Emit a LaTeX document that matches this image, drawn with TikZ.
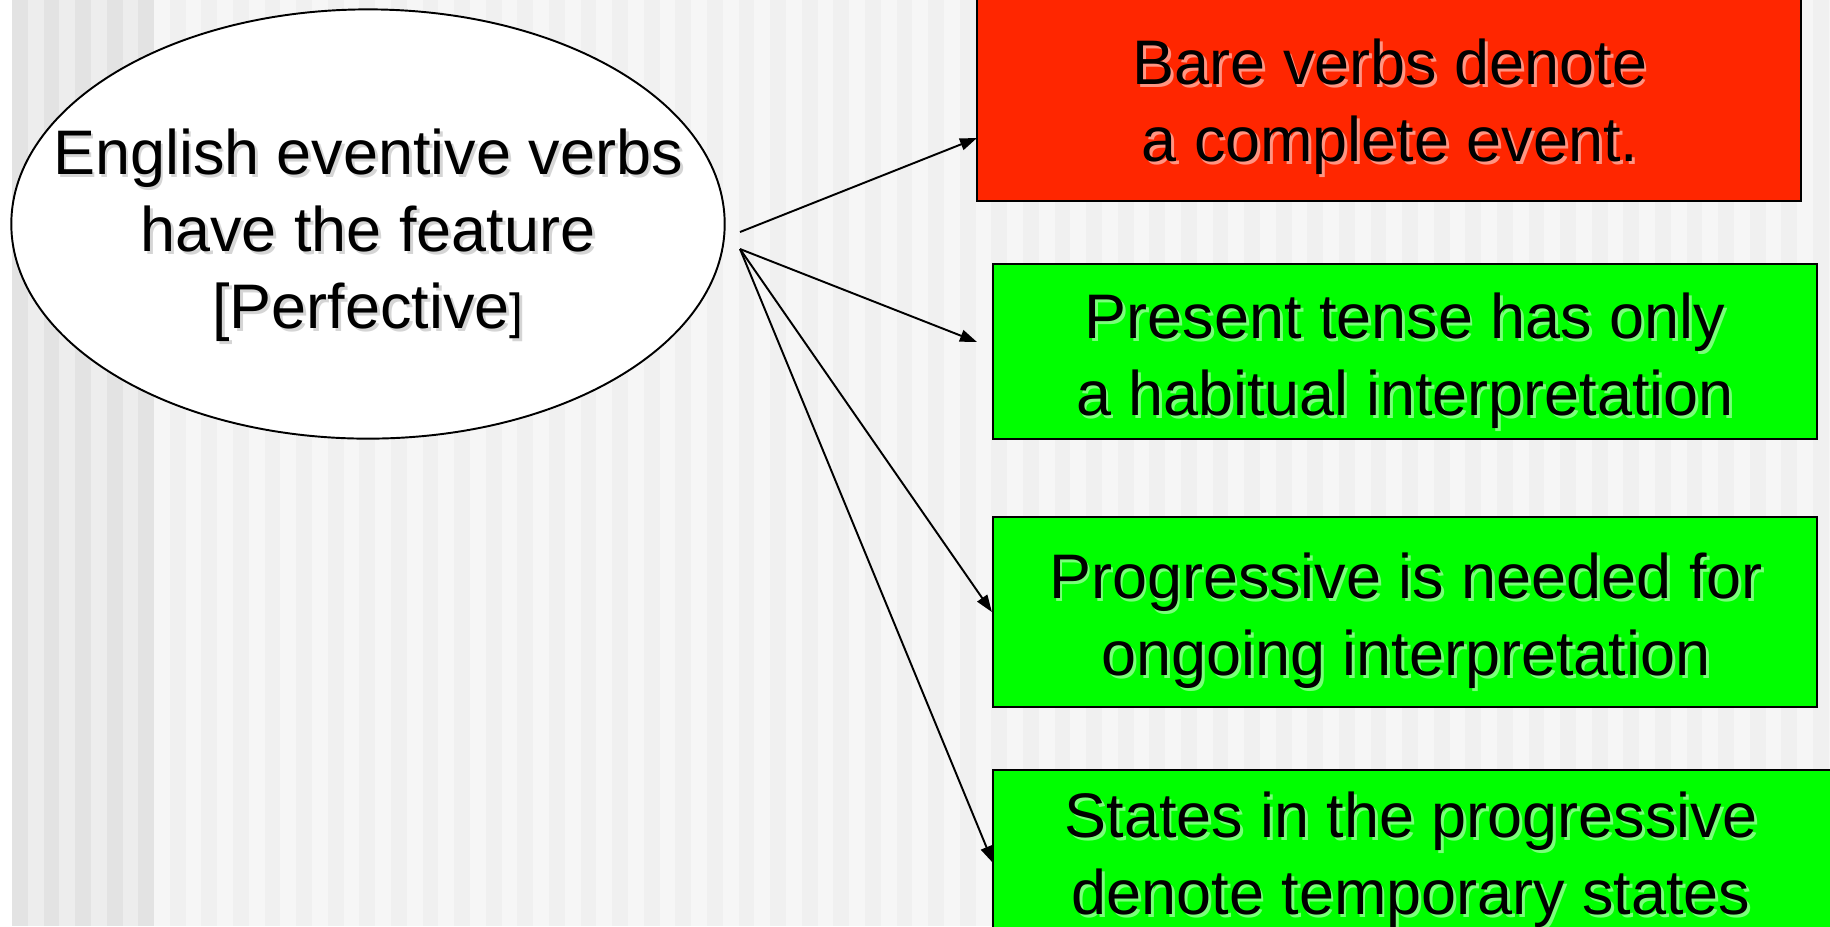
\documentclass[tikz,border=0pt]{standalone}
\usepackage{fontspec}
\setmainfont{Liberation Sans}
\usetikzlibrary{arrows.meta,shapes.geometric}
\definecolor{stripeA}{HTML}{E3E3E3}
\definecolor{stripeB}{HTML}{EDEDED}
\definecolor{stripeC}{HTML}{F6F6F6}
\definecolor{stripeD}{HTML}{F0F0F0}
\definecolor{barered}{HTML}{FF2600}
\definecolor{boxgreen}{HTML}{00FF00}
\tikzset{
  box/.style={draw=black, line width=0.5pt, inner sep=0pt},
  txt/.style={align=center, inner sep=0pt, font=\fontsize{17.9pt}{21.9pt}\selectfont},
}
% text with a soft drop shadow: name, position, shadow colour, text
\newcommand{\shadowed}[4]{%
  \node[txt, text=#3, opacity=0.6] (#1-sh) at ([shift={(0.028cm,-0.028cm)}]#2) {#4};
  \node[txt] (#1) at (#2) {#4};
}

\begin{document}
\begin{tikzpicture}[x=0.01cm, y=-0.01cm, >={Triangle[length=0.17cm,width=0.12cm]}]
  \useasboundingbox (0,0) rectangle (1830,926);
  % striped background
  \fill[stripeB] (12,0) rectangle (154,926);
  \foreach \i in {0,...,4} \fill[stripeA] ({12+\i*31.6},0) rectangle +(15.8,926);
  \fill[stripeD] (154,0) rectangle (1830,926);
  \foreach \i in {0,...,53} \fill[stripeC] ({154+\i*31.6},0) rectangle +(15.8,926);

  % feature
  \node[ellipse, draw=black, line width=0.55pt, fill=white, minimum width=7.13cm, minimum height=4.29cm] (verbs) at (368,224) {};
  \shadowed{verbstxt}{368,235}{gray!55}{English eventive verbs\\have the feature\\{}[Perfective{\fontsize{14pt}{21.9pt}\selectfont]}}

  % consequences
  \node[box, fill=barered, minimum width=8.24cm, minimum height=2.05cm] (bare) at (1389,98.5) {};
  \node[box, fill=boxgreen, minimum width=8.24cm, minimum height=1.75cm] (habit) at (1405,351.5) {};
  \node[box, fill=boxgreen, minimum width=8.24cm, minimum height=1.90cm] (prog) at (1405,612) {};
  \node[box, fill=boxgreen, minimum width=8.52cm, minimum height=1.70cm] (states) at (1419,855) {};
  \shadowed{baretxt}{1390,107}{white!85!barered}{Bare verbs denote\\a complete event.}
  \shadowed{habittxt}{1405,361}{white!80!boxgreen}{Present tense has only\\a habitual interpretation}
  \shadowed{progtxt}{1406,621}{white!80!boxgreen}{Progressive is needed for\\ongoing interpretation}
  \shadowed{statestxt}{1411,860}{white!80!boxgreen}{States in the progressive\\denote temporary states}

  % arrows
  \coordinate (from1) at (740,232);
  \coordinate (from2) at (740,249);
  \coordinate (to1) at (977,138);
  \coordinate (to2) at (977,342);
  \coordinate (to4) at (993,863);
  \draw[->, line width=0.55pt] (from1) -- (to1);
  \draw[->, line width=0.55pt] (from2) -- (to2);
  \draw[->, line width=0.55pt] (from2) -- (prog.west);
  \draw[->, line width=0.55pt] (from2) -- (to4);
\end{tikzpicture}
\end{document}
